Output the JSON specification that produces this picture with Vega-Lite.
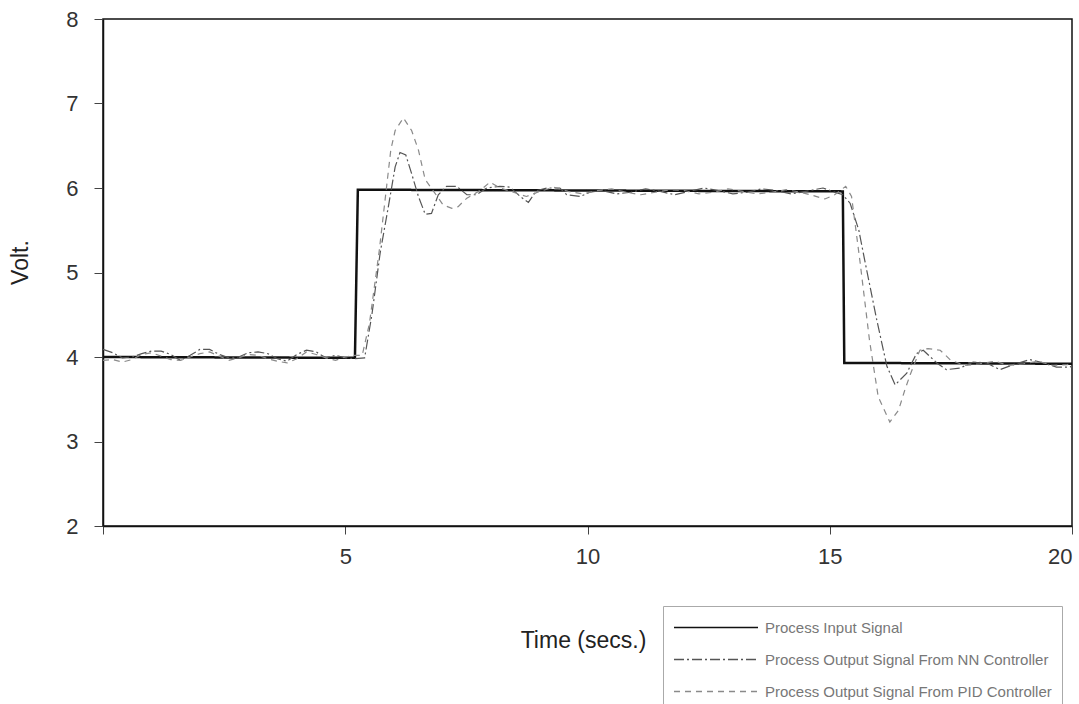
{
  "$schema": "https://vega.github.io/schema/vega-lite/v6.json",
  "width": 969,
  "height": 507,
  "autosize": {"type": "none"},
  "padding": {"left": 103, "top": 19, "right": 7, "bottom": 178},
  "background": "white",
  "config": {
    "font": "Liberation Sans",
    "view": {"stroke": "#111", "strokeWidth": 1.5}
  },
  "datasets": {
    "signals": [
      {"t": 0, "v": 4.0, "s": "Input"},
      {"t": 5.2, "v": 3.99, "s": "Input"},
      {"t": 5.26, "v": 5.98, "s": "Input"},
      {"t": 15.27, "v": 5.96, "s": "Input"},
      {"t": 15.3, "v": 3.93, "s": "Input"},
      {"t": 20, "v": 3.92, "s": "Input"},

      {"t": 0.0, "v": 4.09, "s": "NN"},
      {"t": 0.2, "v": 4.05, "s": "NN"},
      {"t": 0.4, "v": 3.99, "s": "NN"},
      {"t": 0.6, "v": 4.0, "s": "NN"},
      {"t": 0.8, "v": 4.04, "s": "NN"},
      {"t": 1.0, "v": 4.07, "s": "NN"},
      {"t": 1.2, "v": 4.07, "s": "NN"},
      {"t": 1.4, "v": 4.03, "s": "NN"},
      {"t": 1.6, "v": 3.96, "s": "NN"},
      {"t": 1.8, "v": 4.02, "s": "NN"},
      {"t": 2.0, "v": 4.09, "s": "NN"},
      {"t": 2.2, "v": 4.09, "s": "NN"},
      {"t": 2.4, "v": 4.03, "s": "NN"},
      {"t": 2.6, "v": 3.99, "s": "NN"},
      {"t": 2.8, "v": 4.0, "s": "NN"},
      {"t": 3.0, "v": 4.05, "s": "NN"},
      {"t": 3.2, "v": 4.06, "s": "NN"},
      {"t": 3.4, "v": 4.04, "s": "NN"},
      {"t": 3.6, "v": 3.98, "s": "NN"},
      {"t": 3.8, "v": 3.95, "s": "NN"},
      {"t": 4.0, "v": 4.03, "s": "NN"},
      {"t": 4.2, "v": 4.08, "s": "NN"},
      {"t": 4.4, "v": 4.06, "s": "NN"},
      {"t": 4.6, "v": 3.99, "s": "NN"},
      {"t": 4.8, "v": 4.02, "s": "NN"},
      {"t": 5.0, "v": 3.99, "s": "NN"},
      {"t": 5.2, "v": 3.98, "s": "NN"},
      {"t": 5.4, "v": 3.99, "s": "NN"},
      {"t": 5.55, "v": 4.5, "s": "NN"},
      {"t": 5.72, "v": 5.23, "s": "NN"},
      {"t": 5.89, "v": 5.78, "s": "NN"},
      {"t": 6.03, "v": 6.25, "s": "NN"},
      {"t": 6.13, "v": 6.42, "s": "NN"},
      {"t": 6.25, "v": 6.39, "s": "NN"},
      {"t": 6.37, "v": 6.17, "s": "NN"},
      {"t": 6.51, "v": 5.9, "s": "NN"},
      {"t": 6.65, "v": 5.69, "s": "NN"},
      {"t": 6.78, "v": 5.7, "s": "NN"},
      {"t": 6.92, "v": 5.92, "s": "NN"},
      {"t": 7.09, "v": 6.02, "s": "NN"},
      {"t": 7.3, "v": 6.02, "s": "NN"},
      {"t": 7.51, "v": 5.92, "s": "NN"},
      {"t": 7.71, "v": 5.92, "s": "NN"},
      {"t": 7.92, "v": 6.0, "s": "NN"},
      {"t": 8.19, "v": 6.02, "s": "NN"},
      {"t": 8.4, "v": 6.01, "s": "NN"},
      {"t": 8.61, "v": 5.9, "s": "NN"},
      {"t": 8.78, "v": 5.83, "s": "NN"},
      {"t": 8.95, "v": 5.97, "s": "NN"},
      {"t": 9.16, "v": 6.0, "s": "NN"},
      {"t": 9.43, "v": 6.0, "s": "NN"},
      {"t": 9.57, "v": 5.92, "s": "NN"},
      {"t": 9.85, "v": 5.9, "s": "NN"},
      {"t": 10.05, "v": 5.95, "s": "NN"},
      {"t": 10.3, "v": 5.97, "s": "NN"},
      {"t": 10.6, "v": 5.93, "s": "NN"},
      {"t": 10.9, "v": 5.95, "s": "NN"},
      {"t": 11.2, "v": 5.99, "s": "NN"},
      {"t": 11.5, "v": 5.96, "s": "NN"},
      {"t": 11.8, "v": 5.92, "s": "NN"},
      {"t": 12.1, "v": 5.96, "s": "NN"},
      {"t": 12.4, "v": 6.0, "s": "NN"},
      {"t": 12.7, "v": 5.97, "s": "NN"},
      {"t": 13.0, "v": 5.93, "s": "NN"},
      {"t": 13.3, "v": 5.95, "s": "NN"},
      {"t": 13.6, "v": 5.99, "s": "NN"},
      {"t": 13.9, "v": 5.97, "s": "NN"},
      {"t": 14.2, "v": 5.93, "s": "NN"},
      {"t": 14.5, "v": 5.96, "s": "NN"},
      {"t": 14.86, "v": 6.0, "s": "NN"},
      {"t": 15.05, "v": 5.96, "s": "NN"},
      {"t": 15.27, "v": 5.92, "s": "NN"},
      {"t": 15.42, "v": 5.82, "s": "NN"},
      {"t": 15.6, "v": 5.5, "s": "NN"},
      {"t": 15.72, "v": 5.15, "s": "NN"},
      {"t": 15.97, "v": 4.44, "s": "NN"},
      {"t": 16.18, "v": 3.89, "s": "NN"},
      {"t": 16.35, "v": 3.67, "s": "NN"},
      {"t": 16.59, "v": 3.81, "s": "NN"},
      {"t": 16.79, "v": 4.04, "s": "NN"},
      {"t": 16.93, "v": 4.08, "s": "NN"},
      {"t": 17.21, "v": 3.93, "s": "NN"},
      {"t": 17.41, "v": 3.85, "s": "NN"},
      {"t": 17.69, "v": 3.87, "s": "NN"},
      {"t": 17.96, "v": 3.94, "s": "NN"},
      {"t": 18.24, "v": 3.93, "s": "NN"},
      {"t": 18.51, "v": 3.85, "s": "NN"},
      {"t": 18.79, "v": 3.91, "s": "NN"},
      {"t": 19.13, "v": 3.97, "s": "NN"},
      {"t": 19.41, "v": 3.93, "s": "NN"},
      {"t": 19.68, "v": 3.88, "s": "NN"},
      {"t": 19.93, "v": 3.88, "s": "NN"},
      {"t": 20.0, "v": 3.89, "s": "NN"},

      {"t": 0.0, "v": 3.96, "s": "PID"},
      {"t": 0.2, "v": 3.97, "s": "PID"},
      {"t": 0.4, "v": 3.94, "s": "PID"},
      {"t": 0.6, "v": 3.97, "s": "PID"},
      {"t": 0.8, "v": 4.03, "s": "PID"},
      {"t": 1.0, "v": 4.05, "s": "PID"},
      {"t": 1.2, "v": 4.01, "s": "PID"},
      {"t": 1.4, "v": 3.97, "s": "PID"},
      {"t": 1.6, "v": 3.96, "s": "PID"},
      {"t": 1.8, "v": 4.0, "s": "PID"},
      {"t": 2.0, "v": 4.04, "s": "PID"},
      {"t": 2.2, "v": 4.06, "s": "PID"},
      {"t": 2.4, "v": 4.01, "s": "PID"},
      {"t": 2.6, "v": 3.96, "s": "PID"},
      {"t": 2.8, "v": 3.99, "s": "PID"},
      {"t": 3.0, "v": 4.03, "s": "PID"},
      {"t": 3.2, "v": 4.02, "s": "PID"},
      {"t": 3.4, "v": 3.98, "s": "PID"},
      {"t": 3.6, "v": 3.95, "s": "PID"},
      {"t": 3.8, "v": 3.93, "s": "PID"},
      {"t": 4.0, "v": 3.98, "s": "PID"},
      {"t": 4.2, "v": 4.06, "s": "PID"},
      {"t": 4.4, "v": 4.03, "s": "PID"},
      {"t": 4.6, "v": 3.99, "s": "PID"},
      {"t": 4.8, "v": 3.96, "s": "PID"},
      {"t": 5.0, "v": 4.0, "s": "PID"},
      {"t": 5.2, "v": 4.02, "s": "PID"},
      {"t": 5.35, "v": 4.02, "s": "PID"},
      {"t": 5.5, "v": 4.4, "s": "PID"},
      {"t": 5.7, "v": 5.25, "s": "PID"},
      {"t": 5.85, "v": 6.0, "s": "PID"},
      {"t": 5.94, "v": 6.45, "s": "PID"},
      {"t": 6.03, "v": 6.68, "s": "PID"},
      {"t": 6.2, "v": 6.83, "s": "PID"},
      {"t": 6.37, "v": 6.68, "s": "PID"},
      {"t": 6.51, "v": 6.45, "s": "PID"},
      {"t": 6.65, "v": 6.1, "s": "PID"},
      {"t": 6.85, "v": 5.94, "s": "PID"},
      {"t": 7.02, "v": 5.8, "s": "PID"},
      {"t": 7.2, "v": 5.76, "s": "PID"},
      {"t": 7.33, "v": 5.78, "s": "PID"},
      {"t": 7.51, "v": 5.88, "s": "PID"},
      {"t": 7.78, "v": 5.97, "s": "PID"},
      {"t": 7.99, "v": 6.07, "s": "PID"},
      {"t": 8.19, "v": 6.0, "s": "PID"},
      {"t": 8.47, "v": 5.95, "s": "PID"},
      {"t": 8.74, "v": 5.9, "s": "PID"},
      {"t": 9.02, "v": 5.96, "s": "PID"},
      {"t": 9.3, "v": 6.01, "s": "PID"},
      {"t": 9.6, "v": 5.96, "s": "PID"},
      {"t": 9.9, "v": 5.93, "s": "PID"},
      {"t": 10.2, "v": 5.97, "s": "PID"},
      {"t": 10.5, "v": 5.99, "s": "PID"},
      {"t": 10.8, "v": 5.95, "s": "PID"},
      {"t": 11.1, "v": 5.92, "s": "PID"},
      {"t": 11.4, "v": 5.95, "s": "PID"},
      {"t": 11.7, "v": 5.98, "s": "PID"},
      {"t": 12.0, "v": 5.97, "s": "PID"},
      {"t": 12.3, "v": 5.93, "s": "PID"},
      {"t": 12.6, "v": 5.95, "s": "PID"},
      {"t": 12.9, "v": 5.99, "s": "PID"},
      {"t": 13.2, "v": 5.96, "s": "PID"},
      {"t": 13.5, "v": 5.93, "s": "PID"},
      {"t": 13.8, "v": 5.95, "s": "PID"},
      {"t": 14.1, "v": 5.98, "s": "PID"},
      {"t": 14.4, "v": 5.95, "s": "PID"},
      {"t": 14.6, "v": 5.92, "s": "PID"},
      {"t": 14.9, "v": 5.87, "s": "PID"},
      {"t": 15.1, "v": 5.92, "s": "PID"},
      {"t": 15.33, "v": 6.02, "s": "PID"},
      {"t": 15.45, "v": 5.9, "s": "PID"},
      {"t": 15.62, "v": 5.15, "s": "PID"},
      {"t": 15.82, "v": 4.2, "s": "PID"},
      {"t": 16.0, "v": 3.53, "s": "PID"},
      {"t": 16.24, "v": 3.23, "s": "PID"},
      {"t": 16.42, "v": 3.37, "s": "PID"},
      {"t": 16.55, "v": 3.61, "s": "PID"},
      {"t": 16.66, "v": 3.79, "s": "PID"},
      {"t": 16.86, "v": 4.08, "s": "PID"},
      {"t": 17.03, "v": 4.1, "s": "PID"},
      {"t": 17.28, "v": 4.08, "s": "PID"},
      {"t": 17.5, "v": 3.96, "s": "PID"},
      {"t": 17.8, "v": 3.9, "s": "PID"},
      {"t": 18.1, "v": 3.92, "s": "PID"},
      {"t": 18.4, "v": 3.95, "s": "PID"},
      {"t": 18.7, "v": 3.9, "s": "PID"},
      {"t": 19.0, "v": 3.92, "s": "PID"},
      {"t": 19.3, "v": 3.95, "s": "PID"},
      {"t": 19.6, "v": 3.9, "s": "PID"},
      {"t": 19.9, "v": 3.91, "s": "PID"},
      {"t": 20.0, "v": 3.92, "s": "PID"}
    ]
  },
  "data": {"name": "signals"},
  "encoding": {
    "x": {
      "field": "t",
      "type": "quantitative",
      "scale": {"domain": [0, 20], "nice": false, "zero": false},
      "axis": {
        "title": "Time (secs.)",
        "values": [0, 5, 10, 15, 20],
        "labelExpr": "datum.value == 0 ? '' : datum.label",
        "grid": false,
        "domainColor": "#111",
        "domainWidth": 1.5,
        "tickColor": "#444",
        "tickSize": 8,
        "labelFontSize": 22,
        "labelColor": "#333",
        "labelPadding": 12,
        "titleFontSize": 23,
        "titleFontWeight": "normal",
        "titleColor": "#222",
        "titleX": 480,
        "titleY": 114,
        "titleBaseline": "middle",
        "titleAlign": "center"
      }
    },
    "y": {
      "field": "v",
      "type": "quantitative",
      "scale": {"domain": [2, 8], "nice": false, "zero": false},
      "axis": {
        "title": "Volt.",
        "values": [2, 3, 4, 5, 6, 7, 8],
        "grid": false,
        "domainColor": "#111",
        "domainWidth": 1.5,
        "tickColor": "#444",
        "tickSize": 9,
        "labelFontSize": 22,
        "labelColor": "#333",
        "labelPadding": 16,
        "titleFontSize": 23,
        "titleFontWeight": "normal",
        "titleColor": "#222",
        "titleX": -83,
        "titleY": 243,
        "titleBaseline": "middle",
        "titleAlign": "center"
      }
    },
    "color": {
      "field": "s",
      "type": "nominal",
      "scale": {"domain": ["Input", "NN", "PID"], "range": ["#111111", "#555555", "#8a8a8a"]},
      "legend": {
        "title": null,
        "orient": "none",
        "legendX": 560,
        "legendY": 587,
        "labelExpr": "datum.value == 'Input' ? 'Process Input Signal' : datum.value == 'NN' ? 'Process Output Signal From NN Controller' : 'Process Output Signal From PID Controller'",
        "symbolType": "M-1,0L7,0",
        "symbolSize": 441,
        "symbolStrokeWidth": 1.5,
        "labelOffset": 69,
        "labelFontSize": 15,
        "labelColor": "#777",
        "labelLimit": 400,
        "strokeColor": "#aaa",
        "fillColor": "white",
        "padding": 10,
        "rowPadding": 12
      }
    },
    "strokeDash": {
      "field": "s",
      "type": "nominal",
      "scale": {"domain": ["Input", "NN", "PID"], "range": [[1, 0], [10, 3, 2, 3], [6, 5]]},
      "legend": {
        "title": null,
        "orient": "none",
        "legendX": 560,
        "legendY": 587,
        "labelExpr": "datum.value == 'Input' ? 'Process Input Signal' : datum.value == 'NN' ? 'Process Output Signal From NN Controller' : 'Process Output Signal From PID Controller'",
        "symbolType": "M-1,0L7,0",
        "symbolSize": 441,
        "symbolStrokeWidth": 1.5,
        "labelOffset": 69,
        "labelFontSize": 15,
        "labelColor": "#777",
        "labelLimit": 400,
        "strokeColor": "#aaa",
        "fillColor": "white",
        "padding": 10,
        "rowPadding": 12
      }
    }
  },
  "layer": [
    {
      "transform": [{"filter": "datum.s == 'Input'"}],
      "mark": {"type": "line", "strokeWidth": 2.5}
    },
    {
      "transform": [{"filter": "datum.s != 'Input'"}],
      "mark": {"type": "line", "strokeWidth": 1.2}
    }
  ]
}
